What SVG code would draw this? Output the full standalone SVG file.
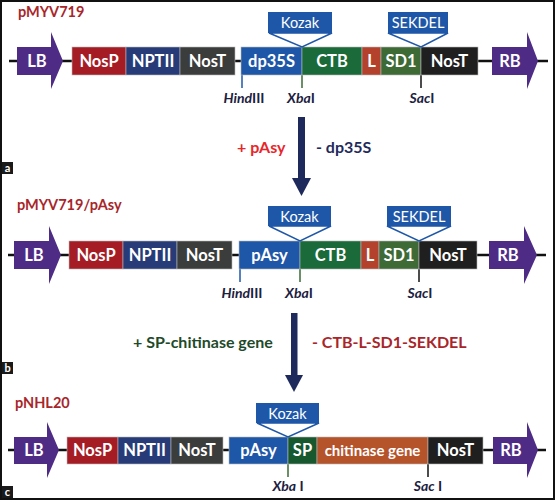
<svg xmlns="http://www.w3.org/2000/svg" width="555" height="500" viewBox="0 0 555 500">
<style>
text{font-family:Lato,"Liberation Sans",sans-serif;}
.seg{stroke:#b8b8b8;stroke-width:0.6;}
.lab{fill:#fff;font-size:16.5px;font-weight:bold;text-anchor:middle;}
.lab.sm{font-size:15px;}
.title{fill:#a8262a;font-size:14.5px;font-weight:bold;}
.call{fill:#fff;stroke:#1f57a8;stroke-width:1.5;}
.callbox{fill:#1f57a8;}
.calltxt{fill:#fff;font-size:14.5px;text-anchor:middle;}
.site{fill:#1c2140;font-size:14px;font-weight:bold;text-anchor:middle;}
.ops{font-size:16px;font-weight:bold;}
.bb{stroke:#111;stroke-width:2.5;}
.arrow{fill:#1f2a5c;}
.purple{fill:#4e2c86;}
.nosp{fill:#a51c24;}
.nptii{fill:#263b78;}
.nost1{fill:#3b3c3c;}
.nost2{fill:#1f1f1f;}
.blue{fill:#1f57a8;}
.ctb{fill:#1a6a3a;}
.lnk{fill:#b3412b;}
.sd1{fill:#3e6a35;}
.sp{fill:#17582f;}
.chit{fill:#b5532a;}
</style>
<rect x="0" y="0" width="555" height="500" fill="#fff"/>
<g id="connectors">
<line class="bb" x1="9" y1="61" x2="548" y2="61"/>
<line class="bb" x1="8" y1="255" x2="546" y2="255"/>
<line class="bb" x1="8" y1="450" x2="546" y2="450"/>
<g id="arrow-ab"><rect class="arrow" x="298" y="117" width="7" height="62"/><polygon class="arrow" points="292,178 311,178 301.5,196"/></g>
<g id="arrow-bc"><rect class="arrow" x="291" y="313" width="6.5" height="63"/><polygon class="arrow" points="285,375 303,375 294,392"/></g>
<line x1="242" y1="75" x2="242" y2="88" stroke="#1f57a8" stroke-width="1.5"/>
<line x1="302" y1="75" x2="302" y2="88" stroke="#3a6a35" stroke-width="1.5"/>
<line x1="421" y1="75" x2="421" y2="88" stroke="#111" stroke-width="1.5"/>
<line x1="240" y1="269" x2="240" y2="282" stroke="#1f57a8" stroke-width="1.5"/>
<line x1="300" y1="269" x2="300" y2="282" stroke="#3a6a35" stroke-width="1.5"/>
<line x1="419" y1="269" x2="419" y2="282" stroke="#111" stroke-width="1.5"/>
<line x1="288" y1="464" x2="288" y2="477" stroke="#3a6a35" stroke-width="1.5"/>
<line x1="428" y1="464" x2="428" y2="477" stroke="#111" stroke-width="1.5"/>
</g>

<!-- Panel a -->
<text class="title" x="18" y="17">pMYV719</text>
<g id="a-LB"><polygon class="purple" points="17,47 51,47 51,32 63,61 51,89 51,75 17,75"/><text class="lab" x="37" y="67">LB</text></g>
<g id="a-NosP"><rect class="seg nosp" x="72" y="47" width="54" height="28"/><text class="lab" x="99" y="67">NosP</text></g>
<g id="a-NPTII"><rect class="seg nptii" x="126" y="47" width="54" height="28"/><text class="lab" x="153" y="67">NPTII</text></g>
<g id="a-NosT1"><rect class="seg nost1" x="180" y="47" width="55" height="28"/><text class="lab" x="207.5" y="67">NosT</text></g>
<g id="a-dp35S"><rect class="seg blue" x="241" y="47" width="61" height="28"/><text class="lab" x="271.5" y="67">dp35S</text></g>
<g id="a-CTB"><rect class="seg ctb" x="302" y="47" width="60" height="28"/><text class="lab" x="332" y="67">CTB</text></g>
<g id="a-L"><rect class="seg lnk" x="362" y="47" width="19" height="28"/><text class="lab" x="371.5" y="67">L</text></g>
<g id="a-SD1"><rect class="seg sd1" x="381" y="47" width="40" height="28"/><text class="lab" x="401" y="67">SD1</text></g>
<g id="a-NosT2"><rect class="seg nost2" x="421" y="47" width="57" height="28"/><text class="lab" x="449.5" y="67">NosT</text></g>
<g id="a-RB"><polygon class="purple" points="492,47 527,47 527,32 538,61 527,89 527,75 492,75"/><text class="lab" x="510" y="67">RB</text></g>
<g id="a-Kozak"><polygon class="call" points="269,33 332,33 302,47"/><rect class="callbox" x="268" y="12" width="64" height="21"/><text class="calltxt" x="300" y="28">Kozak</text></g>
<g id="a-SEKDEL"><polygon class="call" points="388,33 448,33 421,47"/><rect class="callbox" x="388" y="12" width="60" height="21"/><text class="calltxt" x="418" y="28">SEKDEL</text></g>
<g id="a-sites">
<text class="site" x="244" y="103"><tspan font-style="italic">Hind</tspan>III</text>
<text class="site" x="301" y="103"><tspan font-style="italic">Xba</tspan>I</text>
<text class="site" x="422" y="103"><tspan font-style="italic">Sac</tspan>I</text>
</g>
<text class="ops" x="237" y="153" fill="#e8262a">+ pAsy</text>
<text class="ops" x="316" y="153" fill="#1f2a5c">- dp35S</text>

<!-- Panel b -->
<text class="title" x="17" y="210">pMYV719/pAsy</text>
<g id="b-LB"><polygon class="purple" points="14,241 49,241 49,226 61,255 49,284 49,269 14,269"/><text class="lab" x="34" y="261">LB</text></g>
<g id="b-NosP"><rect class="seg nosp" x="69" y="241" width="54" height="28"/><text class="lab" x="96" y="261">NosP</text></g>
<g id="b-NPTII"><rect class="seg nptii" x="123" y="241" width="54" height="28"/><text class="lab" x="150" y="261">NPTII</text></g>
<g id="b-NosT1"><rect class="seg nost1" x="177" y="241" width="55" height="28"/><text class="lab" x="204.5" y="261">NosT</text></g>
<g id="b-pAsy"><rect class="seg blue" x="239" y="241" width="61" height="28"/><text class="lab" x="269.5" y="261">pAsy</text></g>
<g id="b-CTB"><rect class="seg ctb" x="300" y="241" width="61" height="28"/><text class="lab" x="330.5" y="261">CTB</text></g>
<g id="b-L"><rect class="seg lnk" x="361" y="241" width="18" height="28"/><text class="lab" x="370" y="261">L</text></g>
<g id="b-SD1"><rect class="seg sd1" x="379" y="241" width="40" height="28"/><text class="lab" x="399" y="261">SD1</text></g>
<g id="b-NosT2"><rect class="seg nost2" x="419" y="241" width="58" height="28"/><text class="lab" x="448" y="261">NosT</text></g>
<g id="b-RB"><polygon class="purple" points="489,241 524,241 524,226 537,255 524,284 524,269 489,269"/><text class="lab" x="508" y="261">RB</text></g>
<g id="b-Kozak"><polygon class="call" points="269,226 331,226 300,241"/><rect class="callbox" x="268" y="206" width="63" height="20"/><text class="calltxt" x="299.5" y="221.5">Kozak</text></g>
<g id="b-SEKDEL"><polygon class="call" points="387,226 451,226 419,241"/><rect class="callbox" x="387" y="206" width="64" height="20"/><text class="calltxt" x="419" y="221.5">SEKDEL</text></g>
<g id="b-sites">
<text class="site" x="242" y="298"><tspan font-style="italic">Hind</tspan>III</text>
<text class="site" x="299" y="298"><tspan font-style="italic">Xba</tspan>I</text>
<text class="site" x="420" y="298"><tspan font-style="italic">Sac</tspan>I</text>
</g>
<text class="ops" x="133" y="348" fill="#1f4a2a">+ SP-chitinase gene</text>
<text class="ops" x="312" y="348" fill="#a8262a">- CTB-L-SD1-SEKDEL</text>

<!-- Panel c -->
<text class="title" x="15" y="408">pNHL20</text>
<g id="c-LB"><polygon class="purple" points="14,437 47,437 47,422 59,450 47,478 47,464 14,464"/><text class="lab" x="34" y="456">LB</text></g>
<g id="c-NosP"><rect class="seg nosp" x="67" y="437" width="51" height="27"/><text class="lab" x="92.5" y="456">NosP</text></g>
<g id="c-NPTII"><rect class="seg nptii" x="118" y="437" width="53" height="27"/><text class="lab" x="144.5" y="456">NPTII</text></g>
<g id="c-NosT1"><rect class="seg nost1" x="171" y="437" width="52" height="27"/><text class="lab" x="197" y="456">NosT</text></g>
<g id="c-pAsy"><rect class="seg blue" x="229" y="437" width="59" height="27"/><text class="lab" x="258.5" y="456">pAsy</text></g>
<g id="c-SP"><rect class="seg sp" x="288" y="437" width="29" height="27"/><text class="lab" x="302.5" y="456">SP</text></g>
<g id="c-chitinase"><rect class="seg chit" x="317" y="437" width="111" height="27"/><text class="lab sm" x="372.5" y="456">chitinase gene</text></g>
<g id="c-NosT2"><rect class="seg nost2" x="428" y="437" width="55" height="27"/><text class="lab" x="455.5" y="456">NosT</text></g>
<g id="c-RB"><polygon class="purple" points="493,437 527,437 527,422 538,450 527,478 527,464 493,464"/><text class="lab" x="511" y="456">RB</text></g>
<g id="c-Kozak"><polygon class="call" points="257,423 319,423 288,437"/><rect class="callbox" x="256" y="403" width="63" height="20"/><text class="calltxt" x="287.5" y="418.5">Kozak</text></g>
<g id="c-sites">
<text class="site" x="288" y="491"><tspan font-style="italic">Xba</tspan> I</text>
<text class="site" x="428" y="491"><tspan font-style="italic">Sac</tspan> I</text>
</g>

<!-- panel letters -->
<g id="label-a"><rect x="2" y="162" width="11" height="12" fill="#1a1a1a"/><text x="7.5" y="172" fill="#fff" font-size="11" font-weight="bold" text-anchor="middle">a</text></g>
<g id="label-b"><rect x="2" y="362" width="11" height="12" fill="#1a1a1a"/><text x="7.5" y="372" fill="#fff" font-size="11" font-weight="bold" text-anchor="middle">b</text></g>
<g id="label-c"><rect x="2" y="486" width="11" height="12" fill="#1a1a1a"/><text x="7.5" y="496" fill="#fff" font-size="11" font-weight="bold" text-anchor="middle">c</text></g>
<rect x="1" y="1" width="553" height="498" fill="none" stroke="#111" stroke-width="2"/>
</svg>
